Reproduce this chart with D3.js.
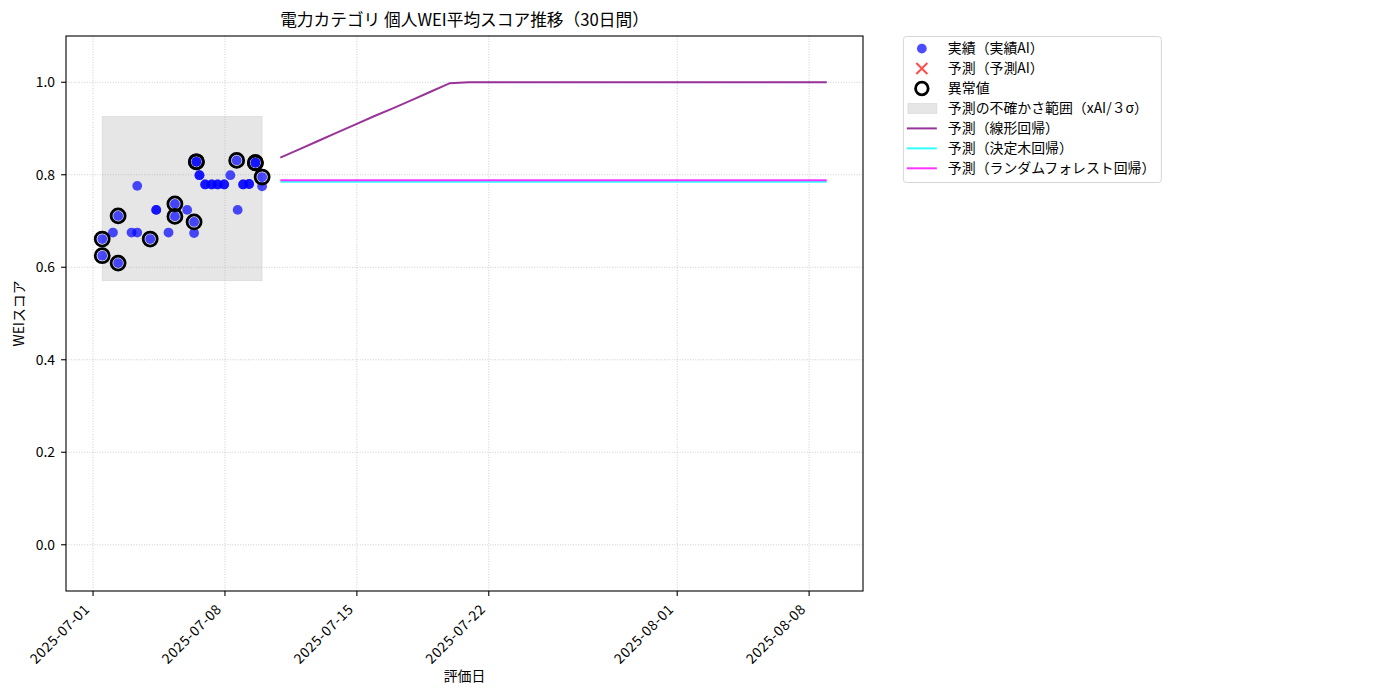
<!DOCTYPE html>
<html>
<head>
<meta charset="utf-8">
<script src="https://cdn.jsdelivr.net/npm/d3@7"></script>
<style>
	body { margin: 0; background: #fff; }
	text { font-family: "Noto Sans CJK JP", "Noto Sans", sans-serif; fill: #000; }
</style>
</head>
<body>
<div id="chart-area" style="width:1400px;height:700px;"></div>
<script>

// observed WEI scores (timestamp, score)
const actualDates = [
	"2025-07-01T11:40", "2025-07-01T11:40", "2025-07-02T01:20", "2025-07-02T07:55", "2025-07-02T07:55",
	"2025-07-03T01:00", "2025-07-03T08:15", "2025-07-03T08:15", "2025-07-04T00:45", "2025-07-04T08:25",
	"2025-07-04T08:25", "2025-07-05T00:05", "2025-07-05T08:15", "2025-07-05T08:15", "2025-07-05T23:50",
	"2025-07-06T08:40", "2025-07-06T08:40", "2025-07-06T11:35", "2025-07-06T11:35", "2025-07-06T15:30",
	"2025-07-06T15:30", "2025-07-06T22:50", "2025-07-06T22:50", "2025-07-07T07:05", "2025-07-07T07:05",
	"2025-07-07T14:40", "2025-07-07T14:40", "2025-07-07T22:55", "2025-07-07T22:55", "2025-07-08T06:50",
	"2025-07-08T14:55", "2025-07-08T16:10", "2025-07-08T23:10", "2025-07-08T23:10", "2025-07-09T06:45",
	"2025-07-09T06:45", "2025-07-09T14:45", "2025-07-09T14:45", "2025-07-09T23:20", "2025-07-09T23:20"
];
const actualScores = [
	0.661, 0.625, 0.675, 0.711, 0.609,
	0.675, 0.776, 0.675, 0.661, 0.724,
	0.724, 0.675, 0.737, 0.710, 0.724,
	0.698, 0.674, 0.828, 0.828, 0.799,
	0.799, 0.779, 0.779, 0.779, 0.779,
	0.779, 0.779, 0.779, 0.779, 0.799,
	0.831, 0.724, 0.779, 0.779, 0.780,
	0.780, 0.826, 0.826, 0.795, 0.775
];
// 1 = flagged as outlier
const outlierFlags = [
	1, 1, 0, 1, 1,
	0, 0, 0, 1, 0,
	0, 0, 1, 1, 0,
	1, 0, 1, 1, 0,
	0, 0, 0, 0, 0,
	0, 0, 0, 0, 0,
	1, 0, 0, 0, 0,
	0, 1, 1, 1, 0
];

// AI prediction points (none in this period)
const predAIDates = [];
const predAIScores = [];

// uncertainty band (score range)
const bandRange = [0.571, 0.926];

// 30-day forecasts
const forecastStart = "2025-07-10T22:30";
const forecastDays = 30;
const linearForecast = [
	0.837, 0.855, 0.873, 0.891, 0.909, 0.927, 0.944, 0.962, 0.980, 0.998,
	1.000, 1.000, 1.000, 1.000, 1.000, 1.000, 1.000, 1.000, 1.000, 1.000,
	1.000, 1.000, 1.000, 1.000, 1.000, 1.000, 1.000, 1.000, 1.000, 1.000
];
const treeForecast = [
	0.785, 0.785, 0.785, 0.785, 0.785, 0.785, 0.785, 0.785, 0.785, 0.785,
	0.785, 0.785, 0.785, 0.785, 0.785, 0.785, 0.785, 0.785, 0.785, 0.785,
	0.785, 0.785, 0.785, 0.785, 0.785, 0.785, 0.785, 0.785, 0.785, 0.785
];
const forestForecast = [
	0.788, 0.788, 0.788, 0.788, 0.788, 0.788, 0.788, 0.788, 0.788, 0.788,
	0.788, 0.788, 0.788, 0.788, 0.788, 0.788, 0.788, 0.788, 0.788, 0.788,
	0.788, 0.788, 0.788, 0.788, 0.788, 0.788, 0.788, 0.788, 0.788, 0.788
];

const xTickDates = ["2025-07-01", "2025-07-08", "2025-07-15", "2025-07-22", "2025-08-01", "2025-08-08"];
const yTicks = [0.0, 0.2, 0.4, 0.6, 0.8, 1.0];
const yDomain = [-0.1, 1.1];

const titleText = "電力カテゴリ 個人WEI平均スコア推移（30日間）";
const xLabelText = "評価日";
const yLabelText = "WEIスコア";
const legendLabels = [
	"実績（実績AI）", "予測（予測AI）", "異常値", "予測の不確かさ範囲（xAI/３σ）",
	"予測（線形回帰）", "予測（決定木回帰）", "予測（ランダムフォレスト回帰）"
];


class WeiTrendChart {

constructor(parentElement) {
	this.parentElement = parentElement;
	this.parse = d3.timeParse("%Y-%m-%dT%H:%M");
	this.parseDay = d3.timeParse("%Y-%m-%d");
}

	initVis() {
		let vis = this;

		vis.margin = {top: 36, right: 537, bottom: 109, left: 66};
		vis.width = 1400 - vis.margin.left - vis.margin.right;
		vis.height = 700 - vis.margin.top - vis.margin.bottom;

		vis.root = d3.select("#" + vis.parentElement).append("svg")
			.attr("width", 1400)
			.attr("height", 700);

		vis.svg = vis.root.append("g")
			.attr("transform", "translate(" + vis.margin.left + "," + vis.margin.top + ")");

		vis.wrangleData();
	}

	wrangleData() {
		let vis = this;

		vis.actual = actualDates.map((d, i) => ({date: vis.parse(d), score: actualScores[i], outlier: outlierFlags[i] === 1}));
		vis.predAI = predAIDates.map((d, i) => ({date: vis.parse(d), score: predAIScores[i]}));

		let start = vis.parse(forecastStart);
		vis.forecastDates = d3.range(forecastDays).map(i => d3.timeDay.offset(start, i));

		vis.series = [
			{values: linearForecast, color: "rgba(128,0,128,0.8)"},
			{values: treeForecast, color: "rgba(0,255,255,0.8)"},
			{values: forestForecast, color: "rgba(255,0,255,0.8)"}
		];

		vis.updateVis();
	}

	updateVis() {
		let vis = this;

		// x range padded 5% each side, like matplotlib
		let allDates = vis.actual.map(d => d.date).concat(vis.forecastDates);
		let ext = d3.extent(allDates);
		let pad = (ext[1] - ext[0]) * 0.05;

		vis.x = d3.scaleTime()
			.domain([new Date(+ext[0] - pad), new Date(+ext[1] + pad)])
			.range([0, vis.width]);

		vis.y = d3.scaleLinear()
			.domain(yDomain)
			.range([vis.height, 0]);

		let actualExt = d3.extent(vis.actual, d => d.date);

		// uncertainty band
		vis.svg.append("rect")
			.attr("x", vis.x(actualExt[0]))
			.attr("width", vis.x(actualExt[1]) - vis.x(actualExt[0]))
			.attr("y", vis.y(bandRange[1]))
			.attr("height", vis.y(bandRange[0]) - vis.y(bandRange[1]))
			.attr("fill", "rgba(128,128,128,0.2)")
			.attr("stroke", "rgba(128,128,128,0.15)");

		// grid
		let xTicks = xTickDates.map(d => vis.parseDay(d));
		let grid = vis.svg.append("g").attr("class", "grid");
		grid.selectAll(".gx").data(xTicks).enter().append("line")
			.attr("x1", d => vis.x(d)).attr("x2", d => vis.x(d))
			.attr("y1", 0).attr("y2", vis.height);
		grid.selectAll(".gy").data(yTicks).enter().append("line")
			.attr("x1", 0).attr("x2", vis.width)
			.attr("y1", d => vis.y(d)).attr("y2", d => vis.y(d));
		grid.selectAll("line")
			.attr("stroke", "#b0b0b0")
			.attr("stroke-opacity", 0.8)
			.attr("stroke-width", 0.8)
			.attr("stroke-dasharray", "1,1.6");

		// observed points
		vis.svg.append("g").selectAll("circle")
			.data(vis.actual)
			.enter()
			.append("circle")
			.attr("cx", d => vis.x(d.date))
			.attr("cy", d => vis.y(d.score))
			.attr("r", 4.9)
			.attr("fill", "rgba(0,0,255,0.7)");

		// outlier rings
		vis.svg.append("g").selectAll("circle")
			.data(vis.actual.filter(d => d.outlier))
			.enter()
			.append("circle")
			.attr("cx", d => vis.x(d.date))
			.attr("cy", d => vis.y(d.score))
			.attr("r", 7)
			.attr("fill", "none")
			.attr("stroke", "#000")
			.attr("stroke-width", 2.8);

		// forecast lines
		let line = d3.line()
			.x((d, i) => vis.x(vis.forecastDates[i]))
			.y(d => vis.y(d));

		vis.svg.append("g").selectAll("path")
			.data(vis.series)
			.enter()
			.append("path")
			.attr("d", d => line(d.values))
			.attr("fill", "none")
			.attr("stroke", d => d.color)
			.attr("stroke-width", 2);

		// frame
		vis.svg.append("rect")
			.attr("width", vis.width)
			.attr("height", vis.height)
			.attr("fill", "none")
			.attr("stroke", "#000")
			.attr("stroke-width", 1.1);

		// axes
		let xAxis = vis.svg.append("g").attr("transform", "translate(0," + vis.height + ")");
		xAxis.selectAll("line").data(xTicks).enter().append("line")
			.attr("x1", d => vis.x(d)).attr("x2", d => vis.x(d))
			.attr("y1", 0).attr("y2", 4.9)
			.attr("stroke", "#000").attr("stroke-width", 1.1);
		xAxis.selectAll("text").data(xTicks).enter().append("text")
			.attr("transform", d => "translate(" + (vis.x(d) - 2.5) + ",19) rotate(-45)")
			.attr("text-anchor", "end")
			.attr("font-size", "13.9px")
			.attr("letter-spacing", "0.6px")
			.text(d => d3.timeFormat("%Y-%m-%d")(d));

		let yAxis = vis.svg.append("g");
		yAxis.selectAll("line").data(yTicks).enter().append("line")
			.attr("x1", -4.9).attr("x2", 0)
			.attr("y1", d => vis.y(d)).attr("y2", d => vis.y(d))
			.attr("stroke", "#000").attr("stroke-width", 1.1);
		yAxis.selectAll("text").data(yTicks).enter().append("text")
			.attr("x", -11)
			.attr("y", d => vis.y(d))
			.attr("dy", "0.35em")
			.attr("text-anchor", "end")
			.attr("font-size", "13.9px")
			.text(d => d3.format(".1f")(d));

		// title and labels
		vis.svg.append("text")
			.attr("x", vis.width / 2)
			.attr("y", -10)
			.attr("text-anchor", "middle")
			.attr("font-size", "16.7px")
			.text(titleText);

		vis.svg.append("text")
			.attr("x", vis.width / 2)
			.attr("y", vis.height + 90)
			.attr("text-anchor", "middle")
			.attr("font-size", "13.9px")
			.text(xLabelText);

		vis.svg.append("text")
			.attr("transform", "translate(-42," + (vis.height / 2) + ") rotate(-90)")
			.attr("text-anchor", "middle")
			.attr("font-size", "13.9px")
			.text(yLabelText);

		vis.drawLegend();
	}

	drawLegend() {
		let vis = this;

		let lx = vis.width * 1.05;
		let lg = vis.svg.append("g").attr("transform", "translate(" + lx + ",0)");

		lg.append("rect")
			.attr("x", 0.5).attr("y", 0.5)
			.attr("width", 258).attr("height", 146)
			.attr("rx", 3)
			.attr("fill", "rgba(255,255,255,0.8)")
			.attr("stroke", "#d6d6d6");

		let rowY = i => 12.6 + i * 19.95;

		// handles
		lg.append("circle").attr("cx", 19).attr("cy", rowY(0)).attr("r", 4.9)
			.attr("fill", "rgba(0,0,255,0.7)");

		let cy = rowY(1);
		lg.append("path")
			.attr("d", "M13.5," + (cy - 5.5) + "L24.5," + (cy + 5.5) + "M13.5," + (cy + 5.5) + "L24.5," + (cy - 5.5))
			.attr("stroke", "rgba(255,0,0,0.7)").attr("stroke-width", 2);

		lg.append("circle").attr("cx", 19).attr("cy", rowY(2)).attr("r", 6.3)
			.attr("fill", "none").attr("stroke", "#000").attr("stroke-width", 2.8);

		lg.append("rect").attr("x", 5).attr("y", rowY(3) - 5).attr("width", 29).attr("height", 10)
			.attr("fill", "rgba(128,128,128,0.2)").attr("stroke", "rgba(128,128,128,0.15)");

		vis.series.forEach((s, k) => {
			lg.append("line")
				.attr("x1", 4).attr("x2", 34)
				.attr("y1", rowY(4 + k)).attr("y2", rowY(4 + k))
				.attr("stroke", s.color).attr("stroke-width", 2);
		});

		lg.selectAll(".ltxt").data(legendLabels).enter().append("text")
			.attr("x", 45)
			.attr("y", (d, i) => rowY(i))
			.attr("dy", "0.35em")
			.attr("font-size", "13.9px")
			.text(d => d);
	}
}

let chart = new WeiTrendChart("chart-area");
chart.initVis();

</script>
</body>
</html>
